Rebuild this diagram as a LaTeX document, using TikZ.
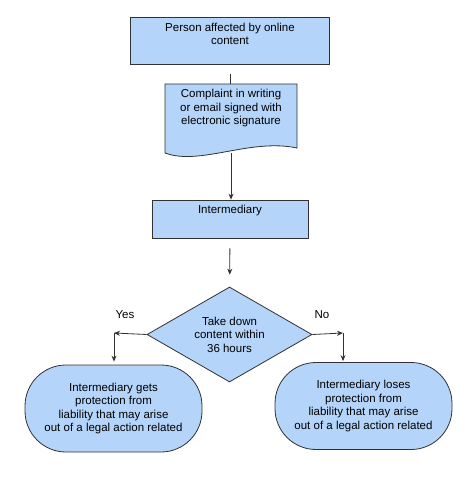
\documentclass[tikz,border=0pt]{standalone}
\usepackage{fontspec}
\setmainfont{Liberation Sans}
\usetikzlibrary{shapes.geometric,arrows.meta}
\definecolor{boxblue}{RGB}{180,212,250}
\definecolor{edge}{RGB}{50,50,50}
\tikzset{box/.style={draw=edge,fill=boxblue,line width=0.8pt,align=center,inner sep=0pt,font=\fontsize{11.5}{13.5}\selectfont},
	pill/.style={box,rounded corners=41pt,minimum width=177pt,minimum height=87pt},
	dia/.style={box,diamond,aspect=1.74,minimum width=165pt,minimum height=95pt},
	lab/.style={font=\fontsize{11.5}{13.5}\selectfont},
	arr/.style={-{Stealth[length=6pt,width=5pt]}}}
\begin{document}
\begin{tikzpicture}[x=1pt,y=-1pt,line width=0.8pt,draw=edge]
		\useasboundingbox (0,0) rectangle (474,478);
		\node[box,minimum width=199pt,minimum height=47pt,text depth=13.2pt] (person) at (230,40.5) {Person affected by online\\content};
		\draw[fill=boxblue] (165,84) -- (297,84) -- (297,148) .. controls (250,138) and (200,166) .. (165,153) -- cycle;
		\node[box,draw=none,fill=none,minimum width=132pt,minimum height=69pt,text depth=22.7pt] (doc) at (231,118.5) {Complaint in writing\\or email signed with\\electronic signature};
		\node[box,minimum width=156pt,minimum height=38pt,text depth=18.7pt] (inter) at (230,219) {Intermediary};
		\node[dia] (take) at (229.5,334.5) {Take down\\content within\\36 hours};
		\node[pill] (gets) at (113.5,408.5) {Intermediary gets\\protection from\\liability that may arise\\out of a legal action related};
		\node[pill] (loses) at (363.5,406) {Intermediary loses\\protection from\\liability that may arise\\out of a legal action related};
		\node[lab] (yes) at (125,315) {Yes};
		\node[lab] (no) at (322,315) {No};
		\coordinate (yesturn) at (114,333);
		\coordinate (noturn) at (343,333);
		\draw[shorten <=10pt] (person.south) -- (person.south |- doc.north);
		\draw[arr] (doc.south) -- (doc.south |- inter.north);
		\draw[arr,shorten <=10pt,shorten >=12pt] (inter) -- (take);
		\draw[arr] (take.west) -- (yesturn);
		\draw[arr,shorten >=3pt] (yesturn) -- (yesturn |- gets.north);
		\draw[arr] (take.east) -- (noturn);
		\draw[arr,shorten >=1pt] (noturn) -- (noturn |- loses.north);
\end{tikzpicture}
\end{document}
